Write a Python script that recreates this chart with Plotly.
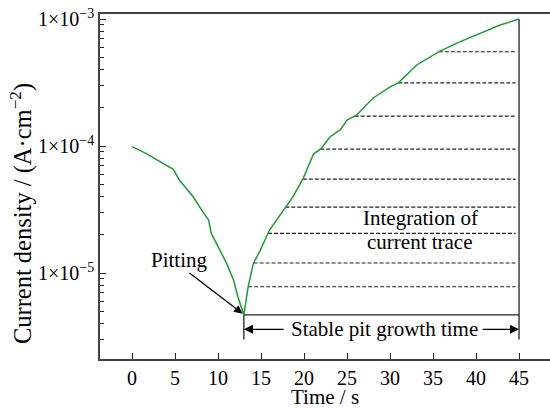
import numpy as np
import plotly.graph_objects as go

# Current transient (time in s, current density in A/cm^2)
time_s = [0, 1.5, 2.4, 3.6, 4.8, 5.5, 6.3, 7.1, 8.1, 8.9, 9.2, 10.0, 11.0, 11.8, 12.3,
          13.0, 13.5, 14.1, 14.9, 16.0, 17.8, 18.7, 19.9, 21.1, 22.0, 23.0, 24.2, 25.0,
          26.1, 28.0, 30.0, 31.0, 33.1, 35.8, 38.1, 40.5, 42.8, 45.0]
current = [9.89e-5, 8.85e-5, 8.15e-5, 7.31e-5, 6.56e-5, 5.40e-5, 4.65e-5, 3.99e-5, 3.13e-5,
           2.61e-5, 2.06e-5, 1.62e-5, 1.19e-5, 8.81e-6, 6.50e-6,
           4.68e-6, 7.80e-6, 1.19e-5, 1.51e-5, 2.19e-5, 3.29e-5, 3.98e-5, 5.57e-5, 8.65e-5,
           9.59e-5, 1.18e-4, 1.34e-4, 1.60e-4, 1.75e-4, 2.38e-4, 2.93e-4, 3.16e-4, 4.35e-4,
           5.60e-4, 6.62e-4, 7.71e-4, 8.97e-4, 1.0e-3]

# Integration levels (dashed lines) and markers of the stable growth window
dash_levels = [5.53e-4, 3.15e-4, 1.72e-4, 9.46e-5, 5.5e-5, 3.3e-5, 2.05e-5, 1.2e-5, 7.8e-6]
dash_end = 44.6
t_pit = 13.0
t_end = 45.0
i_pit = 4.68e-6
i_floor = 3.0e-6

x_ticks = list(range(0, 50, 5))
y_major = [1e-5, 1e-4, 1e-3]
y_major_text = ["1×10<sup>−5</sup>", "1×10<sup>−4</sup>", "1×10<sup>−3</sup>"]
y_minor = [m * 10.0 ** e for e in (-6, -5, -4) for m in range(2, 10)]

FONT = "Times New Roman, Liberation Serif, Times, serif"
GREEN = "#1f9a35"
INK = "#222222"

fig = go.Figure()

# Dashed integration lines start where the rising branch reaches each level
k = time_s.index(t_pit)
rise_t = np.array(time_s[k:])
rise_logi = np.log10(current[k:])
for lvl in dash_levels:
    t0 = float(np.interp(np.log10(lvl), rise_logi, rise_t))
    fig.add_trace(go.Scatter(x=[t0, dash_end], y=[lvl, lvl], mode="lines",
                             line=dict(color=INK, width=1.2, dash="4px,2px"),
                             hoverinfo="skip", showlegend=False))

# Bracket lines of the stable pit growth window
fig.add_trace(go.Scatter(x=[t_pit, t_pit, t_end], y=[i_floor, i_pit, i_pit], mode="lines",
                         line=dict(color=INK, width=1.3), showlegend=False, hoverinfo="skip"))
fig.add_trace(go.Scatter(x=[t_end, t_end], y=[current[-1], i_floor], mode="lines",
                         line=dict(color=INK, width=1.3), showlegend=False, hoverinfo="skip"))

# Current trace
fig.add_trace(go.Scatter(x=time_s, y=current, mode="lines",
                         line=dict(color=GREEN, width=1.5), showlegend=False))

lg = np.log10
txt = dict(family=FONT, size=21, color="black")
ann = []
y_arrow = -5.443
ann.append(dict(x=t_pit, y=y_arrow, ax=17.8, ay=y_arrow, axref="x", ayref="y",
                xref="x", yref="y", text="", showarrow=True, arrowhead=2,
                arrowsize=1.4, arrowwidth=1.3, arrowcolor="black"))
ann.append(dict(x=t_end, y=y_arrow, ax=40.6, ay=y_arrow, axref="x", ayref="y",
                xref="x", yref="y", text="", showarrow=True, arrowhead=2,
                arrowsize=1.4, arrowwidth=1.3, arrowcolor="black"))
ann.append(dict(x=29.3, y=y_arrow, xref="x", yref="y", text="Stable pit growth time",
                showarrow=False, font=txt))
ann.append(dict(x=33.5, y=-4.567, xref="x", yref="y", text="Integration of",
                showarrow=False, font=txt))
ann.append(dict(x=33.5, y=-4.754, xref="x", yref="y", text="current trace",
                showarrow=False, font=txt))
ann.append(dict(x=5.55, y=-4.898, xref="x", yref="y", text="Pitting",
                showarrow=False, font=txt))
ann.append(dict(x=12.85, y=lg(i_pit) + 0.01, ax=6.5, ay=-4.99, axref="x", ayref="y",
                xref="x", yref="y", text="", showarrow=True, arrowhead=2,
                arrowsize=1.3, arrowwidth=1.3, arrowcolor="black"))

# Axis titles
ann.append(dict(x=22.4, y=0, xref="x", yref="paper", yshift=-38, yanchor="middle",
                text="Time / s", showarrow=False, font=txt))
ann.append(dict(x=0, y=0.42, xref="paper", yref="paper", xshift=-79, xanchor="center",
                text="Current density / (A·cm<sup>−2</sup>)", textangle=-90,
                showarrow=False, font=dict(family=FONT, size=24.5, color="black")))

fig.update_layout(
    width=550, height=408,
    margin=dict(l=100, r=0, t=14, b=49),
    paper_bgcolor="white", plot_bgcolor="white",
    font=dict(family=FONT, size=20, color="black"),
    annotations=ann,
    xaxis=dict(range=[-3.73, 48.6], tickvals=x_ticks, ticks="inside", ticklen=6,
               tickwidth=1.2, tickcolor=INK, showline=True, linecolor="#444444",
               linewidth=1.5, mirror=True, showgrid=False, zeroline=False,
               tickfont=dict(size=20)),
    yaxis=dict(type="log", range=[-5.677, -2.96], tickvals=y_major, ticktext=y_major_text,
               ticks="inside", ticklen=6, tickwidth=1.2, tickcolor=INK,
               minor=dict(tickvals=y_minor, ticks="inside", ticklen=4, tickwidth=1,
                          tickcolor=INK, showgrid=False),
               showline=True, linecolor="#444444", linewidth=1.5, mirror=False,
               showgrid=False, zeroline=False,
               tickfont=dict(size=20)),
)

fig.write_html("out.html")
